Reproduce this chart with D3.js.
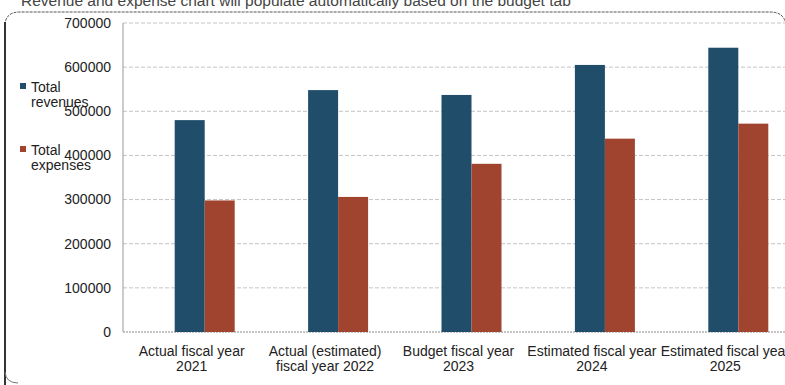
<!DOCTYPE html>
<html>
<head>
<meta charset="utf-8">
<script src="https://cdn.jsdelivr.net/npm/d3@7"></script>
<style>
  body { margin: 0; background: #fff; }
  svg { display: block; font-family: "Liberation Sans", Arial, sans-serif; }
  .tick-label { font-size: 14px; fill: #222; }
  .cat-label { font-size: 14px; fill: #222; }
  .legend { font-size: 14px; fill: #222; }
  .grid { stroke: #c4c4c4; stroke-dasharray: 4,2; stroke-width: 1; }
</style>
</head>
<body>
<div id="chart"></div>
<script>
// Data
const categories = ['2021', '2022', '2023', '2024', '2025'];
const categoryLabels = [
  ['Actual fiscal year', '2021'],
  ['Actual (estimated)', 'fiscal year 2022'],
  ['Budget fiscal year', '2023'],
  ['Estimated fiscal year', '2024'],
  ['Estimated fiscal year', '2025']
];
const series = ['Total revenues', 'Total expenses'];
const revenues = [480000, 548000, 537000, 605000, 644000];
const expenses = [298000, 306000, 381000, 438000, 472000];
const yTicks = [0, 100000, 200000, 300000, 400000, 500000, 600000, 700000];

const colors = { 'Total revenues': '#204e6a', 'Total expenses': '#a0432f' };

const svgW = 785;
const svgH = 385;
const plot = { left: 123, right: 805, top: 23, bottom: 332 };

const svg = d3.select('#chart').append('svg')
  .attr('width', svgW)
  .attr('height', svgH)
  .attr('viewBox', `0 0 ${svgW} ${svgH}`);

// Title (partly cut at top of the scan)
svg.append('text')
  .attr('x', 21)
  .attr('y', 6)
  .attr('font-size', 15.5)
  .attr('fill', '#444')
  .text('Revenue and expense chart will populate automatically based on the budget tab');

// Outer frame
svg.append('path')
  .attr('d', `M5,385 L5,26 Q5,12 20,12 L770,12 Q785,12 786,26`)
  .attr('fill', 'none')
  .attr('stroke', '#555')
  .attr('stroke-dasharray', '3,1')
  .attr('stroke-width', 1);
svg.append('line')
  .attr('x1', 5).attr('x2', 5)
  .attr('y1', 22).attr('y2', 385)
  .attr('stroke', '#333')
  .attr('stroke-width', 2);
svg.append('path')
  .attr('d', `M5,372 Q6,383 18,383`)
  .attr('fill', 'none')
  .attr('stroke', '#777');

// Scales
const y = d3.scaleLinear()
  .domain([0, 700000])
  .range([plot.bottom, plot.top]);

const x0 = d3.scaleBand()
  .domain(categories)
  .range([138, plot.right])
  .paddingInner(0)
  .paddingOuter(0);

const groupW = 60;
const x1 = d3.scaleBand()
  .domain(series)
  .range([0, groupW]);

// Grid
const gG = svg.append('g').attr('class', 'grid-lines');
yTicks.filter(t => t > 0).forEach((t) => {
  gG.append('line')
    .attr('class', 'grid')
    .attr('x1', plot.left)
    .attr('x2', svgW)
    .attr('y1', y(t))
    .attr('y2', y(t));
});

// Axes lines
svg.append('line')
  .attr('x1', plot.left).attr('x2', plot.left)
  .attr('y1', plot.top).attr('y2', plot.bottom)
  .attr('stroke', '#999');
svg.append('line')
  .attr('x1', plot.left).attr('x2', svgW)
  .attr('y1', plot.bottom).attr('y2', plot.bottom)
  .attr('stroke', '#888')
  .attr('stroke-dasharray', '2,1');

// Y tick labels
const gY = svg.append('g').attr('class', 'y-axis');
yTicks.forEach((t) => {
  gY.append('text')
    .attr('class', 'tick-label')
    .attr('x', 111)
    .attr('y', y(t))
    .attr('dy', '0.35em')
    .attr('text-anchor', 'end')
    .text(t);
});

// Bars
const values = { 'Total revenues': revenues, 'Total expenses': expenses };
categories.forEach((c, i) => {
  const gB = svg.append('g')
    .attr('class', `group group-${c}`)
    .attr('transform', `translate(${x0(c) + x0.bandwidth() / 2 - groupW / 2},0)`);
  series.forEach((s) => {
    const v = values[s][i];
    gB.append('rect')
      .attr('x', x1(s))
      .attr('y', y(v))
      .attr('width', x1.bandwidth())
      .attr('height', y(0) - y(v))
      .attr('fill', colors[s]);
  });
});

// Category labels
const gX = svg.append('g').attr('class', 'x-axis');
categories.forEach((c, i) => {
  const cx = x0(c) + x0.bandwidth() / 2 - 13;
  categoryLabels[i].forEach((line, l) => {
    gX.append('text')
      .attr('class', 'cat-label')
      .attr('x', cx)
      .attr('y', 356 + l * 15)
      .attr('text-anchor', 'middle')
      .text(line);
  });
});

// Legend
const gL = svg.append('g').attr('class', 'legend-group');
const legendRows = [
  { s: 'Total revenues', lines: ['Total', 'revenues'], y: 87 },
  { s: 'Total expenses', lines: ['Total', 'expenses'], y: 150 }
];
legendRows.forEach((r) => {
  gL.append('rect')
    .attr('x', 20)
    .attr('y', r.y - 4)
    .attr('width', 6)
    .attr('height', 6)
    .attr('fill', colors[r.s]);
  r.lines.forEach((line, l) => {
    gL.append('text')
      .attr('class', 'legend')
      .attr('x', 31)
      .attr('y', r.y + l * 15)
      .attr('dy', '0.35em')
      .text(line);
  });
});
</script>
</body>
</html>
